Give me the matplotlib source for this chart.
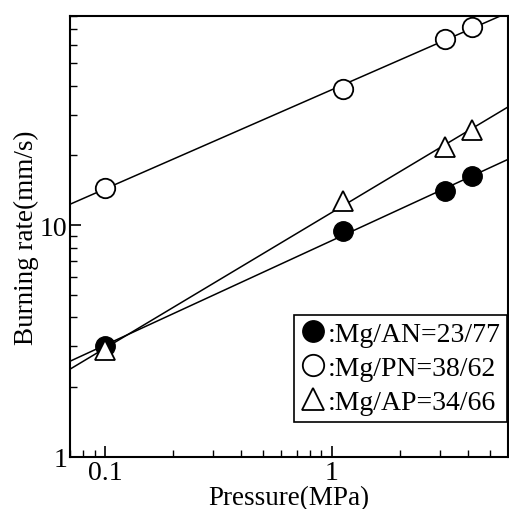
#Burning rate vs pressure - Mg based mixtures (log-log)
import numpy as np
import matplotlib.pyplot as plt
from matplotlib.ticker import NullFormatter

plt.rcParams['font.family'] = ['Liberation Serif', 'DejaVu Serif']

#Data
P_AN = [0.1, 1.12, 3.15, 4.18]
R_AN = [3.0, 9.4, 14.0, 16.3]
P_PN = [0.1, 1.12, 3.15, 4.18]
R_PN = [14.5, 38.8, 63.8, 71.3]
P_AP = [0.1, 1.12, 3.15, 4.18]
R_AP = [2.9, 12.7, 21.8, 25.8]
labels = [':Mg/AN=23/77', ':Mg/PN=38/62', ':Mg/AP=34/66']

fig = plt.figure(figsize=(5.1, 5.1), dpi=100)
ax = fig.add_axes([0.137, 0.102, 0.859, 0.865])
ax.set_xscale('log')
ax.set_yscale('log')
ax.set_xlim(0.07, 6)
ax.set_ylim(1, 80)

#power law fit lines across the whole axis
xfit = np.array([0.07, 6])
for P, R in [(P_AN, R_AN), (P_PN, R_PN), (P_AP, R_AP)]:
    k, b = np.polyfit(np.log10(P), np.log10(R), 1)
    ax.plot(xfit, 10**(k*np.log10(xfit) + b), 'k-', lw=1.1, zorder=2)

ms = 14
ax.plot(P_AN, R_AN, 'o', color='k', ms=ms, label=labels[0], zorder=3)
ax.plot(P_PN, R_PN, 'o', mfc='white', mec='k', mew=1.3, ms=ms, label=labels[1], zorder=3)
ax.plot(P_AP, R_AP, '^', mfc='white', mec='k', mew=1.3, ms=ms+1, label=labels[2], zorder=4)

ax.set_xticks([0.1, 1])
ax.set_xticklabels(['0.1', '1'])
ax.set_yticks([1, 10])
ax.set_yticklabels(['1', '10'])
ax.xaxis.set_minor_formatter(NullFormatter())
ax.yaxis.set_minor_formatter(NullFormatter())
ax.tick_params(which='both', direction='in', top=False, right=False, labelsize=20)
ax.tick_params(which='major', length=8, width=1.2, pad=2)
ax.tick_params(which='minor', length=5, width=1)
for s in ax.spines.values():
    s.set_linewidth(1.5)

ax.set_xlabel('Pressure(MPa)', fontsize=19.5, labelpad=0)
ax.set_ylabel('Burning rate(mm/s)', fontsize=19.5, labelpad=0)

leg = ax.legend(loc='lower right', bbox_to_anchor=(0.998, 0.08), fontsize=20,
                handlelength=0.9, handletextpad=0.05, labelspacing=0.3,
                borderpad=0.25, borderaxespad=0.0, fancybox=False, framealpha=1,
                markerscale=1.1)
leg.get_frame().set_edgecolor('k')
leg.get_frame().set_linewidth(1.2)

plt.savefig('out.png')
